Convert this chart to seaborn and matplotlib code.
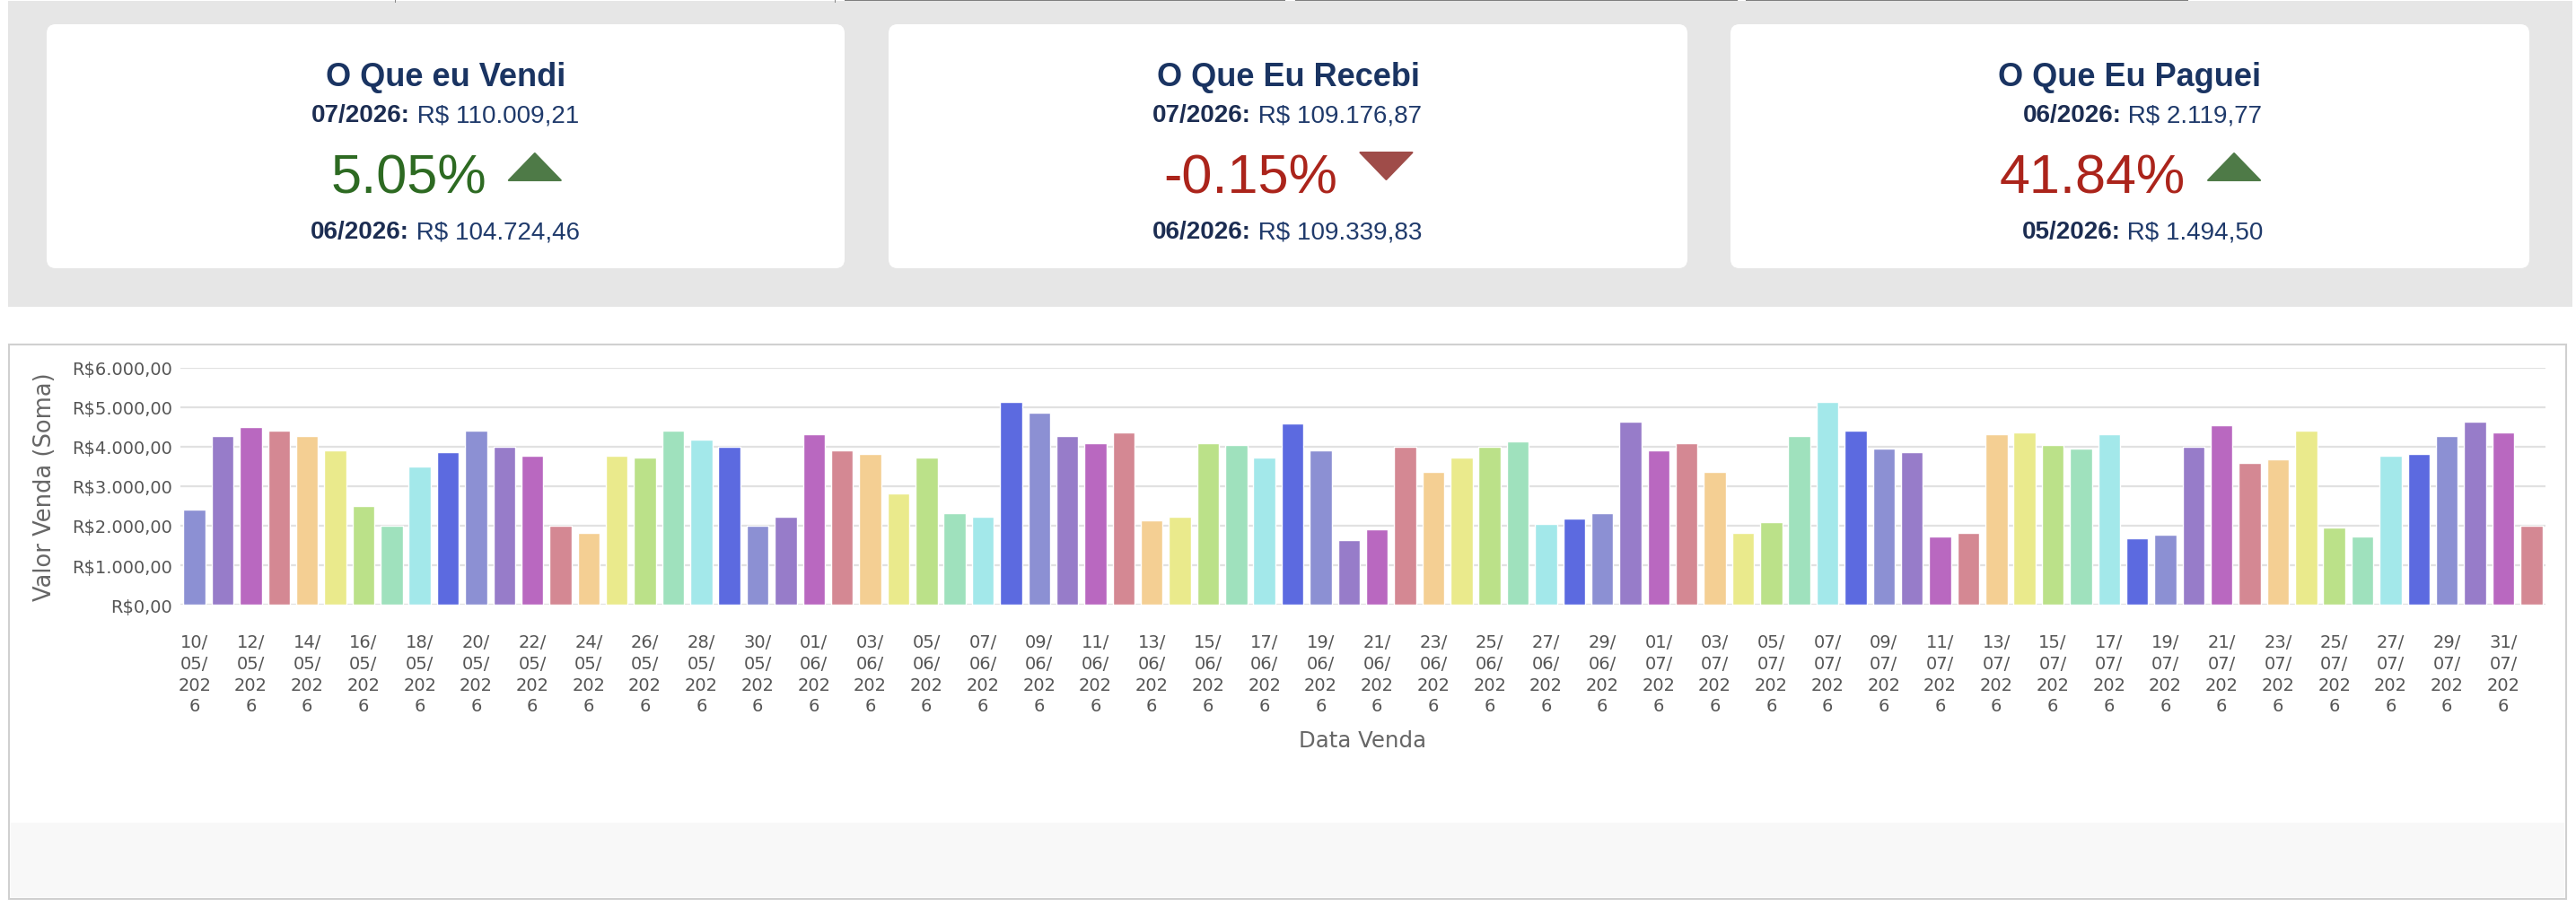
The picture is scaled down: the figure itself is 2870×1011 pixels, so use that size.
import pandas as pd
import matplotlib
matplotlib.use('Agg')
import matplotlib.pyplot as plt
import seaborn as sns
from matplotlib.patches import FancyBboxPatch, Rectangle, Polygon
from matplotlib.offsetbox import TextArea, HPacker, AnnotationBbox
from matplotlib.ticker import FuncFormatter

# Estilo
sns.set_style("white")
plt.rcParams['font.family'] = ['DejaVu Sans']

W, H = 2870, 1012

# Dados do gráfico (valor vendido por dia)
inicio = '2026-05-10'
valores_maio = [2410, 4270, 4500, 4410, 4270, 3910, 2500, 2000, 3500, 3860, 4410,
                4000, 3770, 2000, 1820, 3770, 3730, 4410, 4180, 4000, 2000, 2230]
valores_junho = [4320, 3910, 3820, 2820, 3730, 2320, 2230, 5140, 4860, 4270, 4090,
                 4360, 2140, 2230, 4090, 4050, 3730, 4590, 3910, 1640, 1910, 4000,
                 3360, 3730, 4000, 4140, 2050, 2180, 2320, 4640]
valores_julho = [3910, 4090, 3360, 1820, 2090, 4270, 5140, 4410, 3950, 3860, 1730,
                 1820, 4320, 4360, 4050, 3950, 4320, 1680, 1770, 4000, 4550, 3590,
                 3680, 4410, 1950, 1730, 3770, 3820, 4270, 4640, 4360]
valores_agosto = [2000]

paleta = ['#8c90d3', '#977cc9', '#b968c0', '#d48893', '#f4cf93',
          '#eaea8c', '#bbe189', '#9fe1bd', '#a3e8ea', '#5c6ae0']

# Dados dos cards
titulos = ['O Que eu Vendi', 'O Que Eu Recebi', 'O Que Eu Paguei']
periodo_atual = ['07/2026:', '07/2026:', '06/2026:']
valor_atual = ['R$ 110.009,21', 'R$ 109.176,87', 'R$ 2.119,77']
periodo_anterior = ['06/2026:', '06/2026:', '05/2026:']
valor_anterior = ['R$ 104.724,46', 'R$ 109.339,83', 'R$ 1.494,50']
variacao = ['5.05%', '-0.15%', '41.84%']
cor_variacao = ['#2d6a22', '#ab241b', '#ab241b']
seta_sobe = [True, False, True]

valores = valores_maio + valores_junho + valores_julho + valores_agosto
datas = pd.date_range(inicio, periods=len(valores), freq='D')
df = pd.DataFrame({'Data Venda': datas.strftime('%d/%m/%Y'), 'Valor Venda': valores})
cores = [paleta[i % len(paleta)] for i in range(len(df))]


def fx(x):
    return x / W


def fy(y):
    return 1 - y / H


fig = plt.figure(figsize=(W / 100, H / 100), dpi=100)
fig.patch.set_facecolor('white')

# Fundo do painel dos cards
fig.add_artist(Rectangle((fx(9), fy(343)), fx(2866 - 9), (343 - 2) / H,
                         transform=fig.transFigure, fc='#e6e6e6', ec='none', zorder=-5))
for x0, x1 in [(941, 1432), (1443, 1936), (1945, 2438)]:
    fig.add_artist(Rectangle((fx(x0), fy(2)), fx(x1 - x0), 2 / H,
                             transform=fig.transFigure, fc='#7f7f7f', ec='none', zorder=-4))
for xl in [440, 930]:
    fig.add_artist(Rectangle((fx(xl), fy(4)), 1 / W, 4 / H,
                             transform=fig.transFigure, fc='#888888', ec='none', zorder=-4))

# Caixa do gráfico
fig.add_artist(Rectangle((fx(10), fy(1003)), fx(2859 - 10), (1003 - 385) / H,
                         transform=fig.transFigure, fc='white', ec='#d0d0d0', lw=1.5, zorder=-5))
fig.add_artist(Rectangle((fx(12), fy(1001)), fx(2857 - 12), (1001 - 918) / H,
                         transform=fig.transFigure, fc='#f8f8f8', ec='none', zorder=-4))

# Cards
cards_x = [(52, 941), (990, 1880), (1928, 2818)]
centro_linhas = [496, 1434, 2387]
azul = '#1a3462'
fonte_card = 'Liberation Sans'

textos_pct = []
for i, (x0, x1) in enumerate(cards_x):
    cx = (x0 + x1) / 2
    fig.add_artist(FancyBboxPatch((fx(x0), fy(300)), fx(x1 - x0), (300 - 28) / H,
                                  boxstyle='round,pad=0,rounding_size=0.0035',
                                  mutation_aspect=W / H, transform=fig.transFigure,
                                  fc='white', ec='none', zorder=-3))
    fig.text(fx(cx), fy(96), titulos[i], ha='center', va='baseline', fontsize=26,
             fontweight='bold', color=azul, family=fonte_card)

    for base, per, val in [(137, periodo_atual[i], valor_atual[i]),
                           (267, periodo_anterior[i], valor_anterior[i])]:
        caixa = HPacker(children=[
            TextArea(per, textprops=dict(fontsize=20, fontweight='bold', color='#1c2d52',
                                         family=fonte_card)),
            TextArea(' ' + val, textprops=dict(fontsize=20, color='#1f3a6b',
                                               family=fonte_card))],
            align='baseline', pad=0, sep=0)
        ab = AnnotationBbox(caixa, (fx(centro_linhas[i]), fy(base + 5)),
                            xycoords='figure fraction', box_alignment=(0.5, 0),
                            frameon=False, pad=0)
        fig.add_artist(ab)

    t = fig.text(fx(cx), fy(215), variacao[i], ha='left', va='baseline', fontsize=44,
                 color=cor_variacao[i], family=fonte_card)
    textos_pct.append((t, cx))

# Gráfico de barras
ax = fig.add_axes([fx(201), fy(675), fx(2836 - 201), (675 - 411) / H])
ax.set_facecolor('none')
sns.barplot(data=df, x='Data Venda', y='Valor Venda', hue='Data Venda', palette=cores,
            legend=False, saturation=1, width=0.78, errorbar=None, ax=ax)

ax.set_xlim(-0.5, len(df) - 0.5)
ax.set_ylim(0, 6000)
ax.set_yticks(range(0, 6001, 1000))


def formato_real(v, pos):
    s = f"{v:,.2f}".replace(',', 'X').replace('.', ',').replace('X', '.')
    return f"R${s}"


ax.yaxis.set_major_formatter(FuncFormatter(formato_real))
pos_x = list(range(0, len(df), 2))
rotulos = [f"{d:%d}/\n{d:%m}/\n{str(d.year)[:3]}\n{str(d.year)[3:]}" for d in datas[::2]]
ax.set_xticks(pos_x)
ax.set_xticklabels(rotulos, linespacing=1.32)
ax.tick_params(axis='x', length=0, pad=23, labelsize=14, labelcolor='#555555')
ax.tick_params(axis='y', length=0, pad=6.5, labelsize=14, labelcolor='#555555')

ax.yaxis.grid(True, color='#e1e1e1', lw=1.6)
ax.xaxis.grid(False)
ax.set_axisbelow(True)
sns.despine(ax=ax, left=True, bottom=True)

ax.set_xlabel('Data Venda', fontsize=17.6, color='#666666')
ax.set_ylabel('Valor Venda (Soma)', fontsize=18.5, color='#666666')
ax.xaxis.set_label_coords(0.5, (675 - 814) / 264)
ax.yaxis.set_label_coords((63 - 201) / 2635, 0.5)

# Posiciona percentuais e setas centralizados no card
fig.canvas.draw()
renderer = fig.canvas.get_renderer()
for i, (t, cx) in enumerate(textos_pct):
    w = t.get_window_extent(renderer).width
    total = w + 25 + 58
    esq = cx - total / 2
    t.set_position((fx(esq), fy(215)))
    tx = esq + w + 25
    if seta_sobe[i]:
        pts = [(tx, 202), (tx + 58, 202), (tx + 29, 172)]
        cor = '#4e7a47'
    else:
        pts = [(tx, 171), (tx + 58, 171), (tx + 29, 201)]
        cor = '#9f4c49'
    fig.add_artist(Polygon([(fx(a), fy(b)) for a, b in pts], closed=True,
                           transform=fig.transFigure, fc=cor, ec=cor, lw=1.5,
                           joinstyle='round', zorder=3))

fig.savefig('out.png', dpi=100, facecolor='white')
